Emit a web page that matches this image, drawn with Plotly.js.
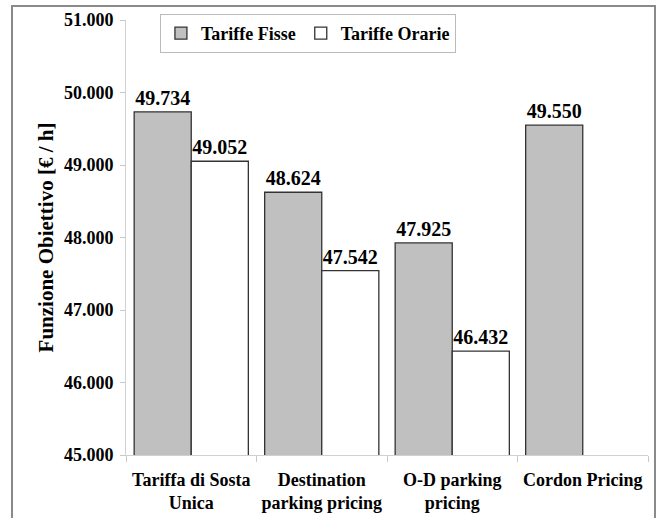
<!DOCTYPE html>
<html>
<head>
<meta charset="utf-8">
<script src="https://cdn.plot.ly/plotly-3.0.1.min.js"></script>
<style>html,body{margin:0;padding:0;background:#fff;}#chart{width:664px;height:518px;}</style>
</head>
<body>
<div id="chart"></div>
<script>
const categories = ["Tariffa di Sosta<br>Unica", "Destination<br>parking pricing", "O-D parking<br>pricing", "Cordon Pricing"];
const tariffeFisse = [49734, 48624, 47925, 49550];
const tariffeOrarie = [49052, 47542, 46432, null];
const yTickVals = [45000, 46000, 47000, 48000, 49000, 50000, 51000];

const fam = "Liberation Serif, Times New Roman, serif";
const fmtDot = v => "<b>" + String(v).replace(/\B(?=(\d{3})+(?!\d))/g, ".") + "</b>";

const traces = [
  {
    type: "bar", name: "<b>Tariffe Fisse</b>", x: categories, y: tariffeFisse,
    marker: {color: "#c0c0c0", line: {color: "#333", width: 1.3}},
    texttemplate: "<b>%{y:,}</b>", textposition: "outside", cliponaxis: false,
    textfont: {family: fam, size: 20, color: "#000"}
  },
  {
    type: "bar", name: "<b>Tariffe Orarie</b>", x: categories, y: tariffeOrarie,
    marker: {color: "#ffffff", line: {color: "#333", width: 1.3}},
    texttemplate: "<b>%{y:,}</b>", textposition: "outside", cliponaxis: false,
    textfont: {family: fam, size: 20, color: "#000"}
  }
];

const layout = {
  width: 664, height: 518,
  margin: {l: 126, r: 16, t: 20, b: 63},
  paper_bgcolor: "#fff", plot_bgcolor: "#fff",
  separators: ",.",
  font: {family: fam, color: "#000", size: 18},
  barmode: "group", bargap: 0.125, bargroupgap: 0,
  showlegend: true,
  legend: {
    orientation: "h", x: 0.065, xanchor: "left", y: 1.0138, yanchor: "top",
    bgcolor: "#fff", bordercolor: "#bbbbbb", borderwidth: 1,
    font: {family: fam, size: 18, color: "#000"},
    itemwidth: 30, tracegroupgap: 0
  },
  xaxis: {
    type: "category", showgrid: false, zeroline: false,
    showline: true, linecolor: "#d0d0d0", linewidth: 1,
    ticks: "outside", tickson: "boundaries", ticklen: 6, tickcolor: "#c8c8c8",
    ticklabelstandoff: 8,
    tickfont: {family: fam, size: 18, color: "#000", weight: "bold"},
    automargin: false
  },
  yaxis: {
    range: [45000, 51000], tickmode: "array", tickvals: yTickVals, ticktext: yTickVals.map(fmtDot),
    showgrid: false, zeroline: false,
    showline: true, linecolor: "#d0d0d0", linewidth: 1,
    ticks: "outside", ticklen: 5, tickcolor: "#c8c8c8",
    ticklabelstandoff: 3,
    tickfont: {family: fam, size: 18, color: "#000"},
    title: {text: "<b>Funzione Obiettivo [€ / h]</b>", font: {family: fam, size: 21, color: "#000"}, standoff: 4},
    automargin: false
  },
  shapes: [
    {type: "rect", xref: "paper", yref: "paper", x0: -0.2184, x1: 1.0134, y0: -0.25, y1: 1.032,
     line: {color: "#8a8a8a", width: 2}, fillcolor: "rgba(0,0,0,0)", layer: "above"}
  ]
};

Plotly.newPlot("chart", traces, layout, {displayModeBar: false, staticPlot: true});
</script>
</body>
</html>
